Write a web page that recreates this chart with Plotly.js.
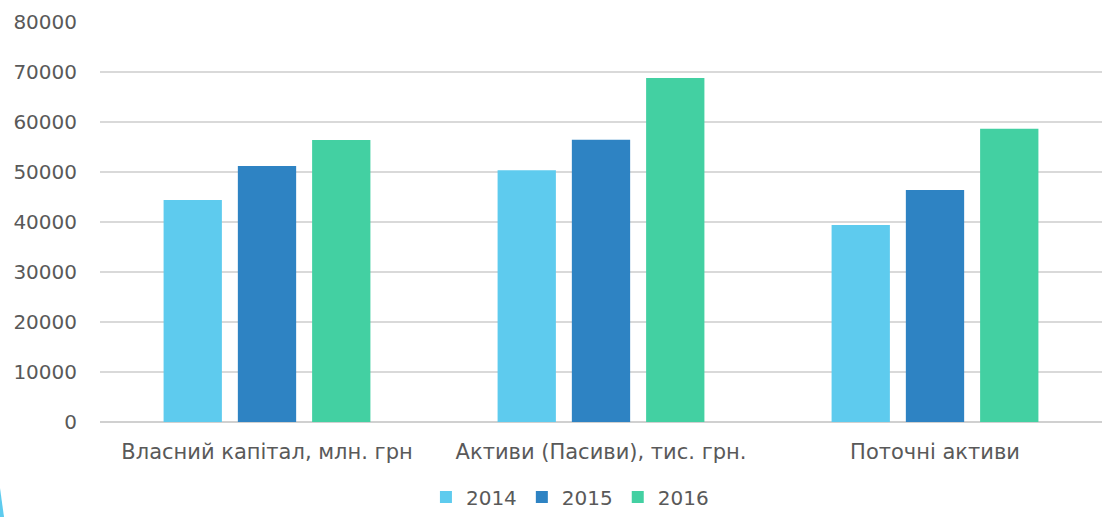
<!DOCTYPE html>
<html>
<head>
<meta charset="utf-8">
<script src="https://cdn.plot.ly/plotly-3.0.1.min.js"></script>
<style>html,body{margin:0;padding:0;background:#fff;}#chart{width:1102px;height:517px;}</style>
</head>
<body>
<div id="chart"></div>
<script>
const categories = ["Власний капітал, млн. грн", "Активи (Пасиви), тис. грн.", "Поточні активи"];
const years = ["2014", "2015", "2016"];
const values2014 = [44400, 50350, 39400];
const values2015 = [51200, 56450, 46400];
const values2016 = [56400, 68800, 58650];
const colors = ["#5ecbee", "#2e83c3", "#43d0a2"];
const yTicks = [0, 10000, 20000, 30000, 40000, 50000, 60000, 70000, 80000];

const series = [values2014, values2015, values2016];
const traces = series.map((vals, i) => ({
  type: 'bar', x: categories, y: vals, name: years[i],
  marker: {color: colors[i]}, hoverinfo: 'y'
}));

const fam = 'DejaVu Sans, Verdana, sans-serif';
const col = '#595959';
const layout = {
  width: 1102, height: 517,
  margin: {l: 100, r: 0, t: 22, b: 95},
  paper_bgcolor: '#fff', plot_bgcolor: '#fff',
  font: {family: fam, size: 20, color: col},
  barmode: 'group', bargap: 0.333, bargroupgap: 0.215,
  showlegend: true,
  legend: {orientation: 'h', x: 0.469, xanchor: 'center', y: -0.1875, yanchor: 'middle',
    font: {family: fam, size: 20, color: col}, itemwidth: 30, traceorder: 'normal'},
  xaxis: {type: 'category', showgrid: false, zeroline: false, showline: false,
    ticks: 'outside', ticklen: 11, tickcolor: 'rgba(0,0,0,0)',
    tickfont: {family: fam, size: 21, color: col}},
  yaxis: {range: [0, 80000], tickvals: yTicks, ticktext: yTicks.map(String),
    showgrid: true, gridcolor: '#d9d9d9', gridwidth: 1.5,
    zeroline: true, zerolinecolor: '#d0d0d0', zerolinewidth: 1.5, showline: false,
    ticks: 'outside', ticklen: 18, tickcolor: 'rgba(0,0,0,0)',
    tickfont: {family: fam, size: 20, color: col}},
  shapes: [{type: 'path', xref: 'paper', yref: 'paper',
    path: 'M -0.0998 -0.165 L -0.0958 -0.2375 L -0.0998 -0.2375 Z',
    fillcolor: '#5ecbee', line: {width: 0}}]
};
Plotly.newPlot('chart', traces, layout, {displayModeBar: false, staticPlot: true});
</script>
</body>
</html>
